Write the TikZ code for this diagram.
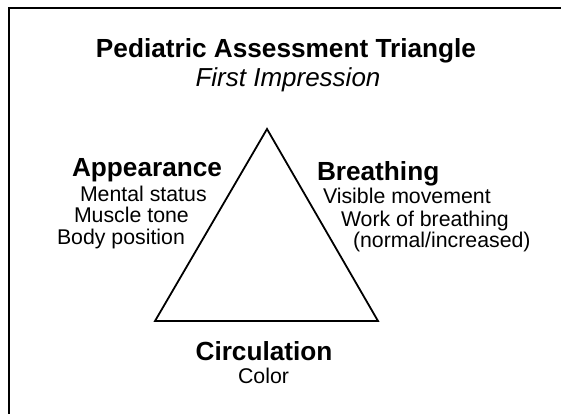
\documentclass[tikz,border=0pt]{standalone}
\usepackage{fontspec}
\setmainfont{Liberation Sans}
\begin{document}
\begin{tikzpicture}[x=1pt,y=-1pt,
  every node/.style={inner sep=0pt,outer sep=0pt,text=black},
  headtxt/.style={font=\fontsize{26.2}{30}\selectfont\bfseries},
  ittxt/.style={font=\fontsize{26}{30}\selectfont\itshape},
  bodytxt/.style={font=\fontsize{21.3}{25}\selectfont},
  frameline/.style={line width=2pt,black},
  triline/.style={line width=1.8pt,black,line join=miter}]
\useasboundingbox (0,0) rectangle (561,414);
% frame (only top and left edges visible)
\coordinate (fbl) at (9,414);
\coordinate (ftl) at (9,8);
\coordinate (ftr) at (561,8);
\draw[frameline] (fbl) -- (ftl) -- (ftr);
% title
\node[headtxt,anchor=base] (title) at (286,58) {Pediatric Assessment Triangle};
\node[ittxt,anchor=base] (sub) at (288,87) {First Impression};
% triangle
\coordinate (apex) at (267,129);
\coordinate (bl) at (155,321);
\coordinate (br) at (378,321);
\draw[triline] (apex) -- (bl) -- (br) -- cycle;
% appearance
\node[headtxt,anchor=base west] (app) at (72,176) {Appearance};
\node[bodytxt,anchor=base west] (app1) at (80,201) {Mental status};
\node[bodytxt,anchor=base west] (app2) at (74,222) {Muscle tone};
\node[bodytxt,anchor=base west] (app3) at (57,244) {Body position};
% breathing
\node[headtxt,anchor=base west] (br0) at (317,180) {Breathing};
\node[bodytxt,anchor=base west] (br1) at (323,203) {Visible movement};
\node[bodytxt,anchor=base west] (br2) at (341,226) {Work of breathing};
\node[bodytxt,anchor=base west] (br3) at (353,247) {(normal/increased)};
% circulation
\node[headtxt,anchor=base] (circ) at (264,360) {Circulation};
\node[bodytxt,anchor=base] (circ1) at (263.5,383) {Color};
\end{tikzpicture}
\end{document}
